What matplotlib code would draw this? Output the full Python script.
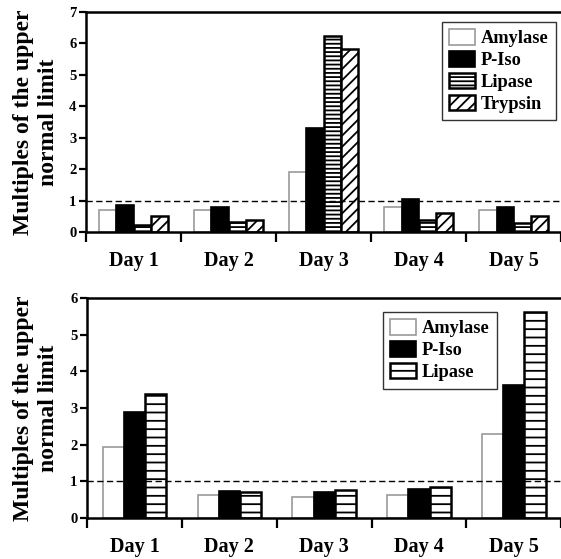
import matplotlib
matplotlib.use("Agg")
import matplotlib.pyplot as plt
import numpy as np

plt.rcParams["font.family"] = ["Liberation Serif", "DejaVu Serif"]
plt.rcParams["font.weight"] = "bold"
plt.rcParams["hatch.linewidth"] = 1.3

days = ["Day 1", "Day 2", "Day 3", "Day 4", "Day 5"]

# top panel
top_names = ["Amylase", "P-Iso", "Lipase", "Trypsin"]
top_amylase = [0.71, 0.71, 1.90, 0.79, 0.71]
top_piso = [0.86, 0.81, 3.32, 1.06, 0.81]
top_lipase = [0.23, 0.32, 6.25, 0.39, 0.29]
top_trypsin = [0.50, 0.37, 5.81, 0.60, 0.50]

# bottom panel
bot_names = ["Amylase", "P-Iso", "Lipase"]
bot_amylase = [1.95, 0.62, 0.58, 0.63, 2.29]
bot_piso = [2.89, 0.75, 0.72, 0.80, 3.62]
bot_lipase = [3.39, 0.71, 0.77, 0.85, 5.62]

styles = {
    "Amylase": dict(facecolor="white", edgecolor="#9a9a9a", linewidth=1.2),
    "P-Iso": dict(facecolor="black", edgecolor="black", linewidth=1.2),
    "Lipase": dict(facecolor="white", edgecolor="black", linewidth=1.8, hatch="----"),
    "Trypsin": dict(facecolor="white", edgecolor="black", linewidth=1.8, hatch="///"),
}

W, H = 561, 559
fig = plt.figure(figsize=(W / 100, H / 100), dpi=100)


def draw_panel(rect, series, names, bar_w, ymax, legend_xy, lipase_hatch):
    ax = fig.add_axes(rect)
    x = np.arange(len(days))
    n = len(series)
    for i, (vals, name) in enumerate(zip(series, names)):
        st = dict(styles[name])
        if name == "Lipase":
            st["hatch"] = lipase_hatch
        offs = (i - (n - 1) / 2) * bar_w
        ax.bar(x + offs, vals, bar_w, label=name, **st)
    ax.axhline(1, color="black", linestyle=(0, (4.5, 2.5)), linewidth=1.0, zorder=5)
    ax.set_xlim(-0.5, 4.54)
    ax.set_ylim(0, ymax)
    ax.set_yticks(range(ymax + 1))
    ax.tick_params(axis="y", direction="out", length=5, width=1.6, labelsize=10.5, pad=2)
    ax.set_xticks(np.arange(-0.5, 5.0, 1.0))
    ax.set_xticklabels([])
    ax.tick_params(axis="x", which="major", direction="out", length=7, width=1.6)
    ax.set_xticks(x, minor=True)
    ax.set_xticklabels(days, minor=True, fontsize=14.5, fontweight="bold")
    ax.tick_params(axis="x", which="minor", length=0, pad=14)
    for s in ["left", "bottom", "top"]:
        ax.spines[s].set_linewidth(1.8)
    ax.spines["right"].set_visible(False)
    leg = ax.legend(
        loc="upper left",
        bbox_to_anchor=(legend_xy[0] / W, 1 - legend_xy[1] / H),
        bbox_transform=fig.transFigure,
        frameon=True,
        fancybox=False,
        borderaxespad=0,
        handlelength=1.4,
        handleheight=0.9,
        handletextpad=0.3,
        labelspacing=0.22,
        borderpad=0.4,
        prop={"family": "Liberation Serif", "weight": "bold", "size": 13.2},
    )
    leg.get_frame().set_edgecolor("black")
    leg.get_frame().set_linewidth(1.0)
    # y label
    y_mid = rect[1] + rect[3] / 2
    fig.text(36.5 / W, y_mid, "Multiples of the upper\nnormal limit", rotation=90,
             ha="center", va="center", fontsize=17, fontweight="bold",
             linespacing=1.25)
    return ax


top_rect = [86 / W, 1 - 232 / H, 479 / W, 220 / H]
bot_rect = [87 / W, 1 - 518 / H, 478 / W, 220 / H]

draw_panel(top_rect, [top_amylase, top_piso, top_lipase, top_trypsin], top_names,
           0.18, 7, (442, 22), "----")
draw_panel(bot_rect, [bot_amylase, bot_piso, bot_lipase], bot_names,
           0.223, 6, (383, 312), "--")

fig.savefig("out.png", dpi=100)
